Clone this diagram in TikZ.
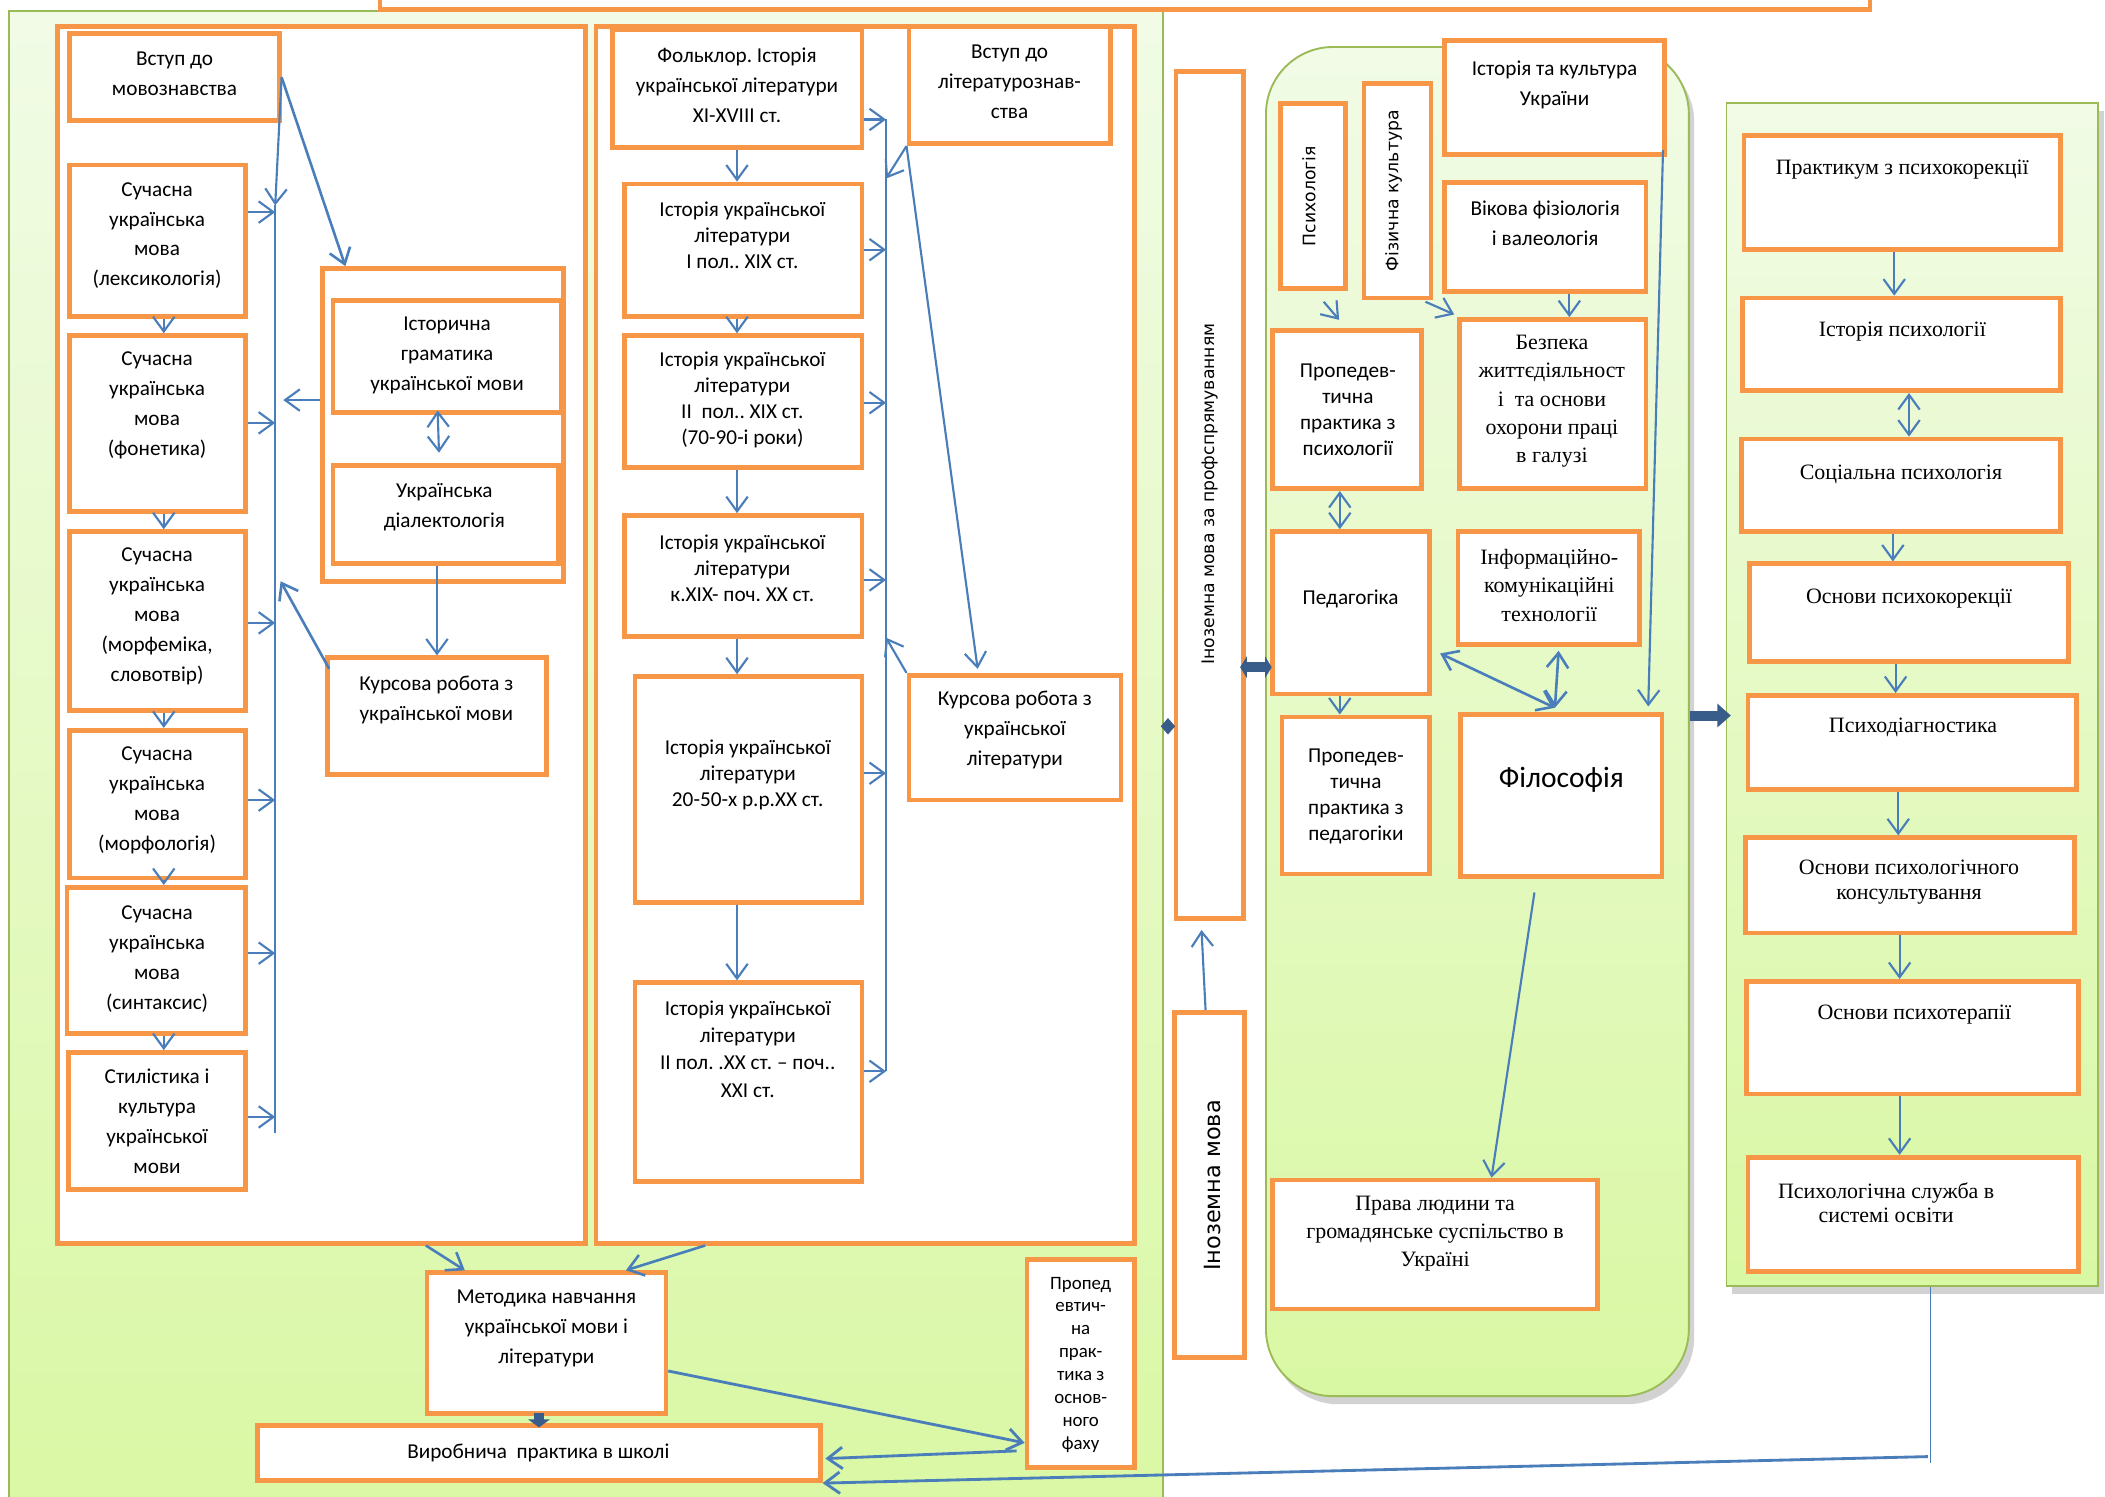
\documentclass[tikz,border=0pt]{standalone}
\usepackage{fontspec}
\setmainfont{Carlito}
\newfontfamily\tnr{Liberation Serif}
\newfontfamily\dvs{DejaVu Sans}
\usetikzlibrary{arrows.meta,fit,calc,shapes.geometric,shadows}
\definecolor{org}{HTML}{F79646}
\definecolor{cb}{HTML}{4A7EBB}
\definecolor{db}{HTML}{385D8A}
\definecolor{gb}{HTML}{9BBB59}
\definecolor{gtop}{HTML}{F1FBE6}
\definecolor{gbot}{HTML}{D9F8A3}
\frenchspacing
\begin{document}
\begin{tikzpicture}[x=0.02cm,y=-0.02cm,
 obox/.style={draw=org,line width=2pt,fill=white,inner sep=0pt},
 panel/.style={draw=gb,line width=0.8pt,inner sep=0pt,top color=gtop,bottom color=gbot},
 shad/.style={drop shadow={opacity=0.35,shadow xshift=0.08cm,shadow yshift=-0.12cm}},
 conn/.style={draw=cb,line width=0.9pt,-{Straight Barb[length=2.2mm,width=3.2mm]}},
 dconn/.style={draw=cb,line width=0.9pt,{Straight Barb[length=2.2mm,width=3.2mm]}-{Straight Barb[length=2.2mm,width=3.2mm]}},
 bus/.style={draw=cb,line width=0.7pt},
 blk/.style={draw=db,line width=4pt,-{Triangle[length=2mm,width=3.4mm]}},
 dblk/.style={draw=db,line width=4pt,{Triangle[length=1mm,width=3.2mm]}-{Triangle[length=1mm,width=3.2mm]}},
 sa/.style={font=\fontsize{9}{12.7}\selectfont,align=center,inner sep=0pt},
 sb/.style={font=\fontsize{9}{11}\selectfont,align=center,inner sep=0pt},
 sc/.style={font=\fontsize{8}{9.7}\selectfont,align=center,inner sep=0pt},
 tm/.style={font=\tnr\fontsize{9.3}{12}\selectfont,align=center,inner sep=0pt},
 tmr/.style={font=\tnr\fontsize{9.3}{10.3}\selectfont,align=center,inner sep=0pt},
 dv/.style={font=\dvs\fontsize{7.3}{9}\selectfont,rotate=90,inner sep=0pt},
 dvb/.style={font=\dvs\fontsize{9.5}{11}\selectfont,rotate=90,inner sep=0pt},
 big/.style={font=\fontsize{12.5}{14}\selectfont,inner sep=0pt}]
\useasboundingbox (0,0) rectangle (1568,1115);
\fill[white] (0,0) rectangle (1568,1115);

% panels
\node[panel,fit={(7,8)(866,1140)}] (lp) {};
\node[panel,shad,rounded corners=1cm,fit={(943,35)(1258,1040)}] (rp) {};
\node[panel,shad,fit={(1286,77)(1563,958)}] (rpn) {};
\node[obox,fit={(283,-20)(1393,7)}] (ttl) {};

% big boxes
\node[obox,fit={(43,20)(436,926)}] (bigL) {};
\node[obox,fit={(444,20)(845,926)}] (bigM) {};

% language column
\node[obox,fit={(52,25)(208,90)}] (vm) {};
\node[sa] (t-vm) at (130,55) {Вступ до\\мовознавства};
\node[obox,fit={(52,123)(183,236)}] (lex) {};
\node[sa] (t-lex) at (117,175.5) {Сучасна\\українська\\мова\\(лексикологія)};
\node[obox,fit={(52,250)(183,381)}] (fon) {};
\node[sa] (t-fon) at (117,302) {Сучасна\\українська\\мова\\(фонетика)};
\node[obox,fit={(52,396)(183,529)}] (mrf) {};
\node[sa] (t-mrf) at (117,459) {Сучасна\\українська\\мова\\(морфеміка,\\словотвір)};
\node[obox,fit={(52,544)(183,654)}] (mfl) {};
\node[sa] (t-mfl) at (117,596) {Сучасна\\українська\\мова\\(морфологія)};
\node[obox,fit={(50,661)(183,770)}] (snt) {};
\node[sa] (t-snt) at (117,714.5) {Сучасна\\українська\\мова\\(синтаксис)};
\node[obox,fit={(51,784)(183,886)}] (stl) {};
\node[sa] (t-stl) at (117,835.5) {Стилістика і\\культура\\української\\мови};

\node[obox,fit={(240,200)(420,433)}] (grp) {};
\node[obox,fit={(248,224)(418,307)}] (ist) {};
\node[sa] (t-ist) at (333,265) {Історична\\граматика\\української мови};
\node[obox,fit={(248,347)(416,420)}] (dia) {};
\node[sa] (t-dia) at (331,378) {Українська\\діалектологія};
\node[obox,fit={(244,490)(407,577)}] (kmv) {};
\node[sa] (t-kmv) at (325,521.5) {Курсова робота з\\української мови};

% literature column
\node[obox,fit={(456,22)(642,110)}] (fol) {};
\node[sa] (t-fol) at (549,63.5) {Фольклор. Історія\\української літератури\\XI-XVIII ст.};
\node[obox,fit={(677,20)(827,107)}] (vlit) {};
\node[sa] (t-vlit) at (752,61) {Вступ до\\літературознав-\\ства};
\node[obox,fit={(465,137)(642,236)}] (l1) {};
\node[sb] (t-l1) at (553,175) {Історія української\\літератури\\I пол.. XIX ст.};
\node[obox,fit={(465,250)(642,348)}] (l2) {};
\node[sb] (t-l2) at (553,298) {Історія української\\літератури\\II\ \ пол.. XIX ст.\\(70-90-і роки)};
\node[obox,fit={(465,384)(642,474)}] (l3) {};
\node[sb] (t-l3) at (553,423) {Історія української\\літератури\\к.XIX- поч. XX ст.};
\node[obox,fit={(473,504)(642,672)}] (l4) {};
\node[sb] (t-l4) at (557,577) {Історія української\\літератури\\20-50-х р.р.XX ст.};
\node[obox,fit={(473,732)(642,880)}] (l5) {};
\node[font=\fontsize{9}{11.5}\selectfont,align=center,inner sep=0pt] (t-l5) at (557,781.5) {Історія української\\літератури\\II пол. .XX ст. – поч..\\XXI ст.};
\node[obox,fit={(677,503)(835,596)}] (klit) {};
\node[sa] (t-klit) at (756,543.5) {Курсова робота з\\української\\літератури};

% bottom
\node[obox,fit={(318,948)(496,1053)}] (met) {};
\node[sa] (t-met) at (407,989.5) {Методика навчання\\української мови і\\літератури};
\node[obox,fit={(192,1062)(611,1103)}] (vir) {};
\node[sa] (t-vir) at (401,1082) {Виробнича\ \ практика в школі};
\node[obox,fit={(765,938)(845,1093)}] (prf) {};
\node[sc] (t-prf) at (805,1016.5) {Пропед\\евтич-\\на\\прак-\\тика з\\основ-\\ного\\фаху};

% foreign language
\node[obox,fit={(876,53)(926,684)}] (inp) {};
\node[dv] (t-inp) at (901,368) {Іноземна мова за профспрямуванням};
\node[obox,fit={(875,754)(927,1011)}] (inm) {};
\node[dvb] (t-inm) at (903,883) {Іноземна мова};
\node[diamond,fill=db,inner sep=0pt,minimum width=0.22cm,minimum height=0.25cm] (dmd) at (870,541) {};

% rounded panel boxes
\node[obox,fit={(954,77)(1002,215)}] (psy) {};
\node[dv] (t-psy) at (975,146) {Психологія};
\node[obox,fit={(1016,62)(1066,222)}] (fiz) {};
\node[dv] (t-fiz) at (1038,142) {Фізична культура};
\node[obox,fit={(1076,30)(1240,115)}] (ikr) {};
\node[sa] (t-ikr) at (1158,63) {Історія та культура\\України};
\node[obox,fit={(1076,136)(1226,217)}] (vik) {};
\node[sa] (t-vik) at (1151,166) {Вікова фізіологія\\і валеологія};
\node[obox,fit={(948,246)(1059,364)}] (pps) {};
\node[sb] (t-pps) at (1004,305.5) {Пропедев-\\тична\\практика з\\психології};
\node[obox,fit={(1087,238)(1226,364)}] (bzp) {};
\node[tm] (t-bzp) at (1156,299) {Безпека\\життєдіяльност\\і\ \ та основи\\охорони праці\\в галузі};
\node[obox,fit={(948,396)(1065,517)}] (ped) {};
\node[sa] (t-ped) at (1006,446) {Педагогіка};
\node[obox,fit={(1086,396)(1221,480)}] (ikt) {};
\node[tm] (t-ikt) at (1154,436) {Інформаційно-\\комунікаційні\\технології};
\node[obox,fit={(955,534)(1065,651)}] (ppd) {};
\node[sb] (t-ppd) at (1010,593) {Пропедев-\\тична\\практика з\\педагогіки};
\node[obox,fit={(1088,532)(1238,653)}] (fil) {};
\node[big] (t-fil) at (1163,581) {Філософія};
\node[obox,fit={(948,879)(1190,975)}] (prl) {};
\node[tm] (t-prl) at (1069,919) {Права людини та\\громадянське суспільство в\\Україні};

% right panel boxes
\node[obox,fit={(1299,101)(1535,186)}] (r1) {};
\node[tmr] (t-r1) at (1417,126) {Практикум з психокорекції};
\node[obox,fit={(1298,222)(1535,291)}] (r2) {};
\node[tmr] (t-r2) at (1417,247) {Історія психології};
\node[obox,fit={(1297,327)(1535,396)}] (r3) {};
\node[tmr] (t-r3) at (1416,353) {Соціальна психологія};
\node[obox,fit={(1303,420)(1541,493)}] (r4) {};
\node[tmr] (t-r4) at (1422,446) {Основи психокорекції};
\node[obox,fit={(1302,518)(1547,588)}] (r5) {};
\node[tmr] (t-r5) at (1425,542) {Психодіагностика};
\node[obox,fit={(1300,624)(1545,695)}] (r6) {};
\node[tmr] (t-r6) at (1422,657) {Основи психологічного\\консультування};
\node[obox,fit={(1301,731)(1548,815)}] (r7) {};
\node[tmr] (t-r7) at (1426,756) {Основи психотерапії};
\node[obox,fit={(1302,862)(1548,947)}] (r8) {};
\node[tmr] (t-r8) at (1405,896) {Психологічна служба в\\системі освіти};

% ---- connectors: language column
\coordinate (bLt) at (205,153);
\coordinate (bLb) at (205,844);
\coordinate (dL) at (122,0);
\draw[bus] (bLt) -- (bLb);
\draw[conn] (vm.east) -- (bLt);
\draw[conn,line width=1.1pt] (vm.east) -- ($(grp.north west)+(19,0)$);
\foreach \b/\y in {lex/158,fon/315,mrf/464,mfl/596,snt/710,stl/832}{
  \coordinate (bL-\b) at (205,\y);
  \draw[conn] (\b.east|-bL-\b) -- (bL-\b);
}
\draw[conn] (lex.south-|dL) -- (fon.north-|dL);
\draw[conn] (fon.south-|dL) -- (mrf.north-|dL);
\draw[conn] (mrf.south-|dL) -- (mfl.north-|dL);
\draw[conn] (mfl.south-|dL) -- (snt.north-|dL);
\draw[conn] (snt.south-|dL) -- (stl.north-|dL);
\coordinate (bLg) at (211,298);
\draw[conn] (grp.west|-bLg) -- (bLg);
\draw[dconn] ($(ist.south)+(-7,-3)$) -- ($(dia.north)+(-5,-8)$);
\draw[conn] (kmv.north|-dia.south) -- (kmv.north);
\coordinate (bLk) at (209,433);
\draw[conn,line width=1.1pt] ($(kmv.north west)+(3,10)$) -- (bLk);

% ---- connectors: literature column
\coordinate (bMt) at (660,89);
\coordinate (bMb) at (660,798);
\coordinate (dM) at (549,0);
\draw[bus] (bMt) -- (bMb);
\foreach \b/\y in {fol/89,l1/186,l2/300,l3/432,l4/576,l5/798}{
  \coordinate (bM-\b) at (660,\y);
  \draw[conn] (\b.east|-bM-\b) -- (bM-\b);
}
\draw[conn] (fol.south-|dM) -- (l1.north-|dM);
\draw[conn] (l1.south-|dM) -- (l2.north-|dM);
\draw[conn] (l2.south-|dM) -- (l3.north-|dM);
\draw[conn] (l3.south-|dM) -- (l4.north-|dM);
\draw[conn] (l4.south-|dM) -- (l5.north-|dM);
\coordinate (bMv) at (660,133);
\draw[conn] (vlit.south west) -- (bMv);
\draw[conn] (vlit.south west) -- ($(klit.north west)+(53,-3)$);
\coordinate (bMk) at (660,475);
\draw[conn] (klit.north west) -- (bMk);

% ---- bottom
\draw[conn,line width=1.1pt] ($(bigL.south west)+(276,0)$) -- ($(met.north west)+(30,0)$);
\draw[conn,line width=1.1pt] ($(bigM.south west)+(83,0)$) -- ($(met.north west)+(150,0)$);
\draw[blk,-{Triangle[length=1.2mm,width=3.2mm]}] ($(vir.north|-met.south)+(0,-2)$) -- ($(vir.north)+(0,3)$);
\draw[conn,line width=1.2pt] ($(met.north east)+(0,75)$) -- ($(prf.south west)+(0,-20)$);
\draw[conn,line width=1.2pt] ($(prf.south west)+(-6,-14)$) -- ($(vir.east)+(2,4)$);
\coordinate (rc1) at (1438,1090);
\coordinate (rc2) at (1436,1085);
\draw[bus] (rpn.south-|rc1) -- (rc1);
\draw[conn,line width=1.2pt] (rc2) -- (vir.south east);

% ---- middle
\draw[conn] ($(inm.north)+(-3,0)$) -- ($(inp.south)+(-6,7)$);
\coordinate (dbk) at (935,497);
\draw[dblk] ($(inp.east|-dbk)+(-4,0)$) -- ($(rp.west|-dbk)+(5,0)$);
\draw[conn] ($(psy.south)+(8,8)$) -- ($(pps.north)+(-6,-6)$);
\draw[conn] ($(fiz.south east)+(-6,1)$) -- ($(bzp.north west)+(-2,-2)$);
\coordinate (vkx) at (1169,0);
\draw[conn] (vik.south-|vkx) -- (bzp.north-|vkx);
\draw[conn] ($(ikr.south east)+(-3,-5)$) -- ($(fil.north east)+(-12,-4)$);
\coordinate (pdx) at (998,0);
\draw[dconn] (pps.south-|pdx) -- (ped.north-|pdx);
\draw[conn] (ped.south-|pdx) -- (ppd.north-|pdx);
\draw[dconn,line width=1.1pt] ($(ped.south east)+(6,-32)$) -- ($(fil.north west)+(72,-3)$);
\draw[dconn,line width=1.1pt] ($(ikt.south)+(7.5,3)$) -- ($(fil.north west)+(72,-3)$);
\draw[conn] ($(fil.south)+(-20,10)$) -- ($(prl.north)+(42,0)$);
\coordinate (bk3) at (1270,533);
\draw[blk,line width=4.2pt,-{Triangle[length=2mm,width=3.4mm]}] (rp.east|-bk3) -- ($(rpn.west|-bk3)+(4,0)$);

% ---- right column
\foreach \a/\b/\x in {r1/r2/1411,r3/r4/1410,r4/r5/1412,r5/r6/1414,r6/r7/1415,r7/r8/1415}{
  \coordinate (rx-\a) at (\x,0);
  \draw[conn] (\a.south-|rx-\a) -- (\b.north-|rx-\a);
}
\coordinate (rx2) at (1422,0);
\draw[dconn] (r2.south-|rx2) -- (r3.north-|rx2);
\end{tikzpicture}
\end{document}
